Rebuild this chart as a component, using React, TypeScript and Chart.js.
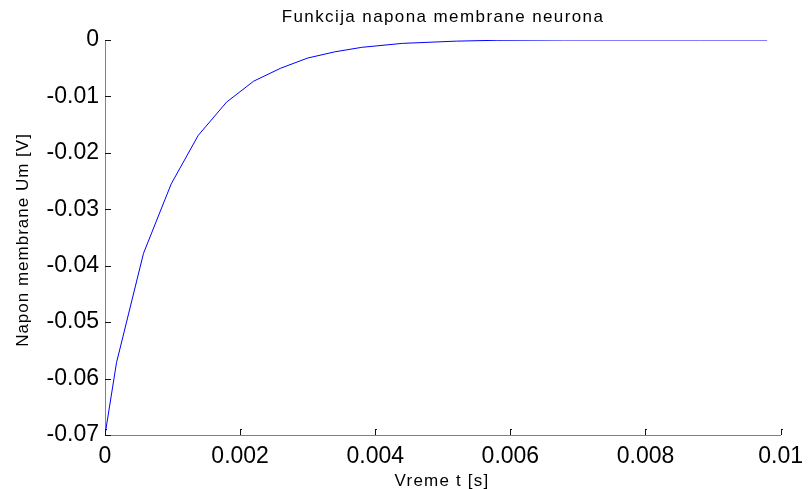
import React, { useEffect, useRef } from "react";
import { Chart, registerables } from "chart.js";

Chart.register(...registerables);

const TITLE = "Funkcija napona membrane neurona";
const X_TITLE = "Vreme t [s]";
const Y_TITLE = "Napon membrane Um [V]";

const timeS = [0, 0.00017, 0.00057, 0.00098, 0.00138, 0.0018, 0.0022, 0.0026, 0.003, 0.0034, 0.0038, 0.0044, 0.0052, 0.0058, 0.0068, 0.0078, 0.0088, 0.0098];
const voltageV = [-0.07, -0.0572, -0.0378, -0.0255, -0.0169, -0.011, -0.0073, -0.005, -0.0032, -0.0021, -0.0013, -0.0006, -0.0002, -0.00005, 0, 0, 0, 0];

const xTicks = [0, 0.002, 0.004, 0.006, 0.008, 0.01];
const yTicks = [-0.07, -0.06, -0.05, -0.04, -0.03, -0.02, -0.01, 0];

const FONT = "'Liberation Sans', Arial, Helvetica, sans-serif";

const fmt = (v: number) => {
  const n = Number(Number(v).toFixed(4));
  return n === 0 ? "0" : String(n);
};

const decor = {
  id: "decor",
  afterDraw(chart: any) {
    const ctx = chart.ctx;
    const { left, bottom } = chart.chartArea;
    const x = chart.scales.x;
    const y = chart.scales.y;
    ctx.save();
    ctx.fillStyle = "#111";
    xTicks.forEach((v) => {
      const px = Math.round(x.getPixelForValue(v));
      ctx.fillRect(px, bottom - 6, 1, 6);
      ctx.fillRect(px, bottom - 6, 2, 1);
    });
    yTicks.forEach((v) => {
      const py = Math.round(y.getPixelForValue(v));
      ctx.fillRect(left, py, 6, 1);
    });

    ctx.fillStyle = "#000";
    ctx.textBaseline = "alphabetic";
    ctx.textAlign = "center";
    ctx.font = `17px ${FONT}`;
    ctx.letterSpacing = "1.4px";
    ctx.fillText(TITLE, 443, 22);
    ctx.letterSpacing = "1.2px";
    ctx.fillText(X_TITLE, 442, 486);
    ctx.translate(28, 240);
    ctx.rotate(-Math.PI / 2);
    ctx.letterSpacing = "1px";
    ctx.fillText(Y_TITLE, 0, 0);
    ctx.restore();
  },
};

export default function App() {
  const ref = useRef<HTMLCanvasElement | null>(null);

  useEffect(() => {
    if (!ref.current) return;
    const chart = new Chart(ref.current, {
      type: "line",
      data: {
        datasets: [
          {
            data: timeS.map((t, i) => ({ x: t, y: voltageV[i] })),
            borderColor: "#0000ff",
            borderWidth: 1,
            pointRadius: 0,
            tension: 0,
            fill: false,
          },
        ],
      },
      options: {
        animation: false,
        responsive: true,
        maintainAspectRatio: false,
        layout: { padding: { top: 40, right: 24, left: 0, bottom: 0 } },
        plugins: {
          legend: { display: false },
          title: { display: false },
          tooltip: { enabled: false },
        },
        scales: {
          x: {
            type: "linear",
            min: 0,
            max: 0.01,
            afterBuildTicks: (s: any) => {
              s.ticks = xTicks.map((v) => ({ value: v }));
            },
            afterFit: (s: any) => {
              s.height = 54;
            },
            ticks: {
              callback: (v: any) => fmt(v),
              color: "#000",
              font: { family: FONT, size: 23 },
              padding: 8,
              maxRotation: 0,
              autoSkip: false,
            },
            grid: { display: true, drawOnChartArea: false, drawTicks: false },
            border: { display: true, color: "#808080", width: 1 },
          },
          y: {
            type: "linear",
            min: -0.07,
            max: 0,
            afterBuildTicks: (s: any) => {
              s.ticks = yTicks.map((v) => ({ value: v }));
            },
            afterFit: (s: any) => {
              s.width = 105;
            },
            ticks: {
              callback: (v: any) => fmt(v),
              color: "#000",
              font: { family: FONT, size: 23 },
              padding: 6,
              autoSkip: false,
            },
            grid: { display: true, drawOnChartArea: false, drawTicks: false },
            border: { display: true, color: "#808080", width: 1 },
          },
        },
      },
      plugins: [decor],
    });
    return () => chart.destroy();
  }, []);

  return (
    <div style={{ position: "absolute", left: 0, top: 0, width: 811, height: 489, background: "#fff" }}>
      <canvas ref={ref} />
    </div>
  );
}
